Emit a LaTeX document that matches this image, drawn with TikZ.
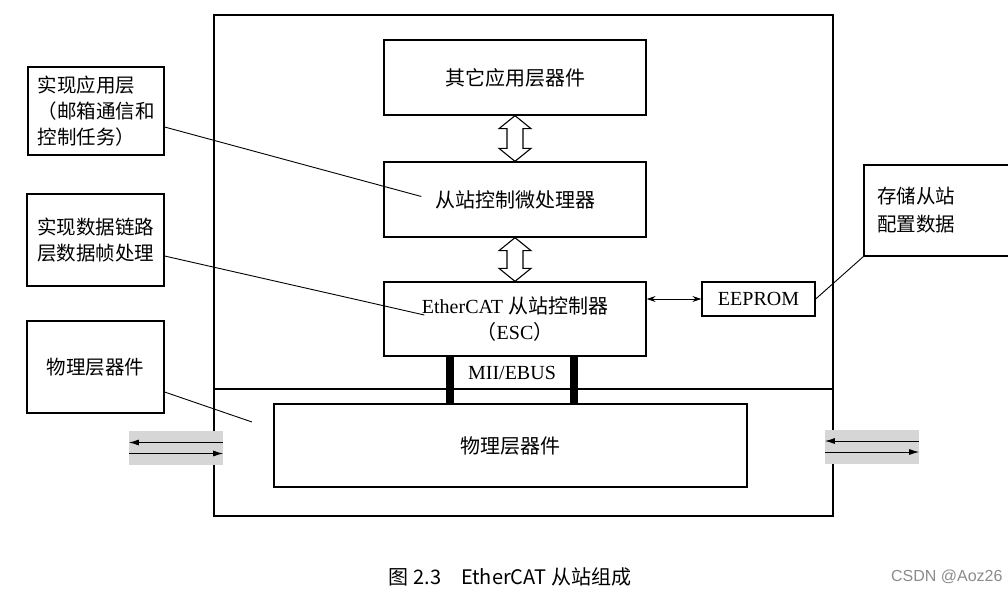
\documentclass[tikz,border=0pt]{standalone}
\usepackage{fontspec}
\setmainfont{Liberation Serif}
\newfontfamily\cjk{Noto Sans CJK SC}
\newfontfamily\capsans{Liberation Sans}
\usetikzlibrary{calc, positioning, arrows.meta}

\tikzset{
  blk/.style={draw, line width=1.3pt, inner sep=0pt, align=center,
              font=\fontsize{20pt}{26pt}\selectfont},
  zhblk/.style={blk, font=\cjk\fontsize{20pt}{26pt}\selectfont},
  note/.style={blk, align=left, font=\cjk\fontsize{19.5pt}{26pt}\selectfont},
  boxline/.style={line width=1.3pt},
  leader/.style={line width=0.9pt},
  frame/.style={line width=2pt},
  bus/.style={line width=8pt},
  hollowarrow/.style={draw, line width=1.1pt, fill=white},
  band/.style={fill=black!16, inner sep=0pt, minimum width=94pt, minimum height=34pt},
  linkarrow/.style={line width=1pt, -{Latex[length=10pt, width=6pt]}},
  memarrow/.style={line width=1pt, {Stealth[length=9pt, width=6pt]}-{Stealth[length=9pt, width=6pt]}},
}

\newcommand\dualarrow[2]{%
  \draw[hollowarrow] (#1.south) -- ++(16,13) -- ++(-8,0) -- ($(#2.north)+(8,-13)$)
    -- ++(8,0) -- (#2.north) -- ++(-16,-13) -- ++(8,0) -- ($(#1.south)+(-8,13)$)
    -- ++(-8,0) -- cycle;}

\begin{document}
\begin{tikzpicture}[x=1pt, y=-1pt]
\useasboundingbox[fill=white] (0,0) rectangle (1008,598);

\draw[frame] (214,15) rectangle (833,516);
\draw[frame] (214,389) -- (833,389);

\node[zhblk, minimum width=262pt, minimum height=75pt] (app) at (515,77.5) {其它应用层器件};
\node[zhblk, minimum width=262pt, minimum height=75pt] (mcu) at (515,199.5) {从站控制微处理器};
\node[blk, minimum width=262pt, minimum height=74pt] (esc) at (515,319)
  {EtherCAT {\cjk 从站控制器}\\{\cjk （}ESC{\cjk ）}};
\node[blk, minimum width=113pt, minimum height=34pt] (eeprom) at (758.5,299) {EEPROM};
\node[zhblk, minimum width=473pt, minimum height=83pt] (phys) at (510.5,445.5) {物理层器件};

\dualarrow{app}{mcu}
\dualarrow{mcu}{esc}

\draw[bus] ([xshift=-65pt]esc.south) -- ([xshift=-65pt]esc.south |- phys.north);
\draw[bus] ([xshift=59pt]esc.south) -- ([xshift=59pt]esc.south |- phys.north);
\node[font=\fontsize{20pt}{24pt}\selectfont] (mii) at (512,373) {MII/EBUS};

\draw[memarrow] (esc.east |- eeprom.west) -- (eeprom.west);

\node[note, minimum width=136pt, minimum height=88pt] (lapp) at (96,111)
  {实现应用层\\（邮箱通信和\\控制任务）};
\node[note, minimum width=137pt, minimum height=92pt] (llink) at (95.5,240)
  {实现数据链路\\层数据帧处理};
\node[note, minimum width=137pt, minimum height=92pt] (lphy) at (95.5,367) {物理层器件};

\draw[leader] ($(lapp.east)+(0,16)$) -- ($(mcu.west)+(38,-3)$);
\draw[leader] ($(llink.east)+(0,16)$) -- ($(esc.west)+(41,-4)$);
\coordinate (phyend) at (252,422);
\draw[leader] ($(lphy.east)+(0,25)$) -- (phyend);

\node[font=\cjk\fontsize{19.5pt}{28pt}\selectfont, align=center] (store) at (916,210)
  {存储从站\\配置数据};
\draw[boxline] (1008,165) -| (864,256) -- (1008,256);
\coordinate (storecorner) at (864,256);
\draw[leader] (storecorner) -- (eeprom.east);

\node[band] (lband) at (176,448) {};
\node[band] (rband) at (872,446.5) {};
\draw[linkarrow] ([yshift=5.5pt]lband.east) -- ([yshift=5.5pt]lband.west);
\draw[linkarrow] ([yshift=-5.5pt]lband.west) -- ([yshift=-5.5pt]lband.east);
\draw[linkarrow] ([yshift=5.5pt]rband.east) -- ([yshift=5.5pt]rband.west);
\draw[linkarrow] ([yshift=-5.5pt]rband.west) -- ([yshift=-5.5pt]rband.east);

\node[font=\cjk\fontsize{20pt}{24pt}\selectfont] (caption) at (510,577)
  {图 2.3\quad EtherCAT 从站组成};
\node[font=\capsans\fontsize{16pt}{20pt}\selectfont, text=black!45, anchor=east] (mark) at (1006,577)
  {CSDN @Aoz26};
\end{tikzpicture}
\end{document}
